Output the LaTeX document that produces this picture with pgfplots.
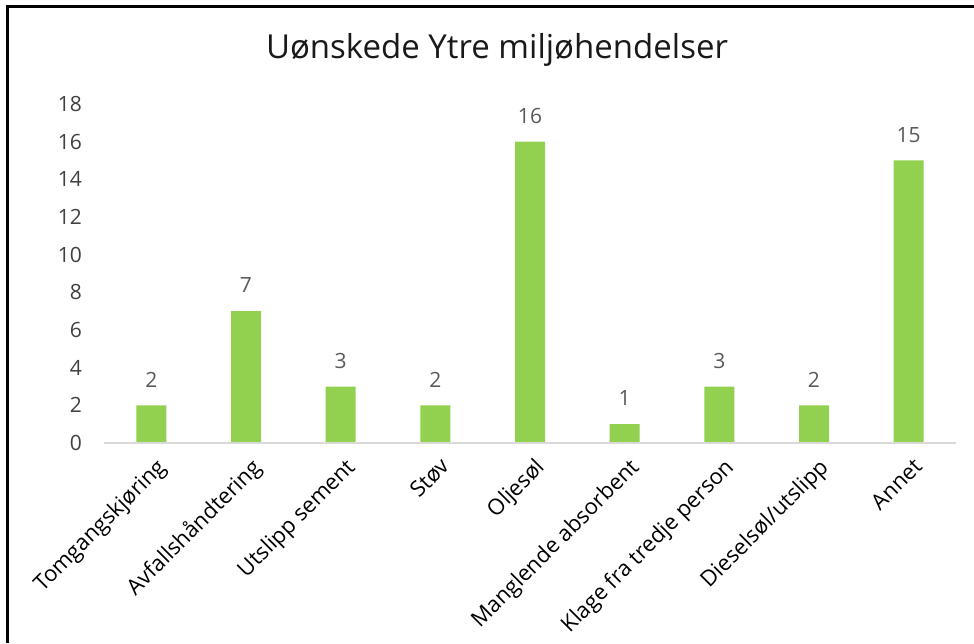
\documentclass[border=0pt]{standalone}
\usepackage{fontspec}
\setmainfont{Open Sans}
\usepackage{pgfplots}
\pgfplotsset{compat=1.18}
\definecolor{bargreen}{HTML}{92D050}
\definecolor{lbl}{HTML}{404040}
\definecolor{dlbl}{HTML}{595959}
\definecolor{base}{HTML}{D9D9D9}
\begin{document}
\begin{tikzpicture}[x=1pt,y=1pt]
\useasboundingbox (0,0) rectangle (974,643);
\draw[line width=3pt] (7,0) -- (7,636) -- (974,636);
\node[anchor=base, font=\fontsize{33}{36}\selectfont, text=black!90, inner sep=0pt] at (497,584) {Uønskede Ytre miljøhendelser};
\begin{axis}[
  at={(104pt,200pt)}, anchor=south west,
  scale only axis, width=852pt, height=339pt,
  xmin=-0.5, xmax=8.5, ymin=0, ymax=18,
  ytick={0,2,...,18},
  xtick={0,...,8},
  xticklabels={Tomgangskjøring,Avfallshåndtering,Utslipp sement,Støv,Oljesøl,Manglende absorbent,Klage fra tredje person,Dieselsøl/utslipp,Annet},
  axis line style={draw=none},
  major tick length=0pt,
  tick style={draw=none},
  /pgf/number format/assume math mode=true,
  yticklabel style={font=\fontsize{21}{24}\selectfont, text=lbl, anchor=east, inner sep=0pt, xshift=-22pt},
  xticklabel style={font=\fontsize{22}{25}\selectfont, text=black, rotate=45, anchor=north east, inner sep=0pt, xshift=-7pt, yshift=-12pt},
  ybar, bar width=30pt,
  nodes near coords,
  nodes near coords style={font=\fontsize{21}{24}\selectfont, text=dlbl, anchor=south, inner sep=0pt, yshift=18pt},
  clip=false,
]
\addplot[fill=bargreen, draw=none] coordinates {(0,2) (1,7) (2,3) (3,2) (4,16) (5,1) (6,3) (7,2) (8,15)};
\draw[base, line width=2pt] (axis cs:-0.5,0) -- (axis cs:8.5,0);
\end{axis}
\end{tikzpicture}
\end{document}
